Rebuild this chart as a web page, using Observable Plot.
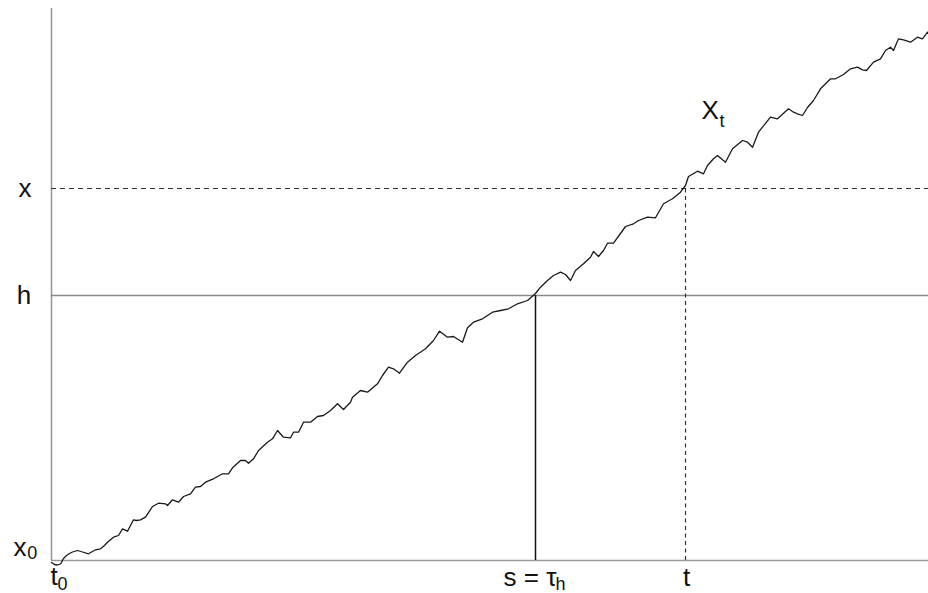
<!DOCTYPE html>
<html>
<head>
<meta charset="utf-8">
<script src="https://cdn.jsdelivr.net/npm/d3@7"></script>
<script src="https://cdn.jsdelivr.net/npm/@observablehq/plot@0.6"></script>
<style>
  html, body { margin: 0; padding: 0; background: #fff; }
  #chart svg { display: block; }
</style>
</head>
<body>
<div id="chart"></div>
<script>
// Sample path X_t: [time, value] (arbitrary units)
const samples = [
  [0,-2],[3,-4],[6,-4.5],[9,-3.5],[12,2],[15,5],[18,7],[21,8.5],[26,10],[31,8.5],
  [37,6.7],[41,9],[44,10.7],[49,11.7],[53,15],[56,18.3],[62,23.3],[67,25],[71,31.7],[76,29.3],
  [82,40.7],[85,40],[89,40.7],[94,43.3],[101,54],[107,57.3],[114,56.7],[116,55],[121,60.7],[127,58.3],
  [132,64],[139,66.7],[144,73.3],[149,74],[154,78.3],[162,81.7],[171,86.7],[177,86.7],[181,92.7],[189,100],
  [194,100],[197,97.3],[202,101.7],[207,110],[216,118.3],[221,121.7],[226,130],[232,123.3],[239,122.7],[242,128.3],
  [247,128.3],[252,138.3],[259,138.3],[266,144],[272,145],[279,150],[286,156.7],[292,151],[299,158.3],[301,163.3],
  [309,170],[316,168.3],[326,176.7],[331,185],[337,193.3],[342,191.7],[348,187.3],[356,198.3],[364,205],[374,211.7],
  [382,220],[388,229.3],[396,223.3],[402,224],[411,218.3],[416,232.7],[422,238.3],[431,241.7],[436,245],[441,248.3],
  [449,250],[457,251.7],[466,256.7],[476,260],[484,267],[489,273.3],[496,280],[502,285],[509,288.3],[514,286],
  [519,280],[524,290],[532,296.7],[539,303.3],[542,309],[547,304],[552,310],[556,317.3],[562,317.3],[569,327],
  [574,334],[582,336.7],[587,340],[596,343.3],[604,342.7],[612,356.7],[621,361.7],[629,368.3],[634,375],[637,384],
  [646,389.3],[652,386.7],[656,395],[662,401.7],[666,405],[674,398.3],[681,411.7],[691,420],[696,418.3],[701,413.3],
  [707,428.3],[719,443.3],[726,441.7],[737,451.7],[742,448.3],[746,446.7],[751,445],[756,453],[762,460],[769,471.7],
  [779,481.7],[784,481.7],[792,486],[799,491.7],[806,493.3],[811,490.7],[815,490],[822,498.3],[829,501.7],[834,510],
  [839,513.3],[842,510],[847,521.7],[852,520.7],[859,518.3],[866,523.3],[871,521.7],[876,528.3],[877,527]
];

// Reference levels and times
const x0Level = 0;
const hLevel = 265;
const xLevel = 372;
const t0Time = 0;
const tauTime = 484;
const tTime = 634;
const tMax = 877;
const yMax = 552;

// Label texts
const mainLabels = ["x", "h", "x", "t", "s = τ", "t", "X"];
const subLabels = ["", "", "0", "0", "h", "", "t"];

const font = "'Liberation Sans', Arial, Helvetica, sans-serif";
const ink = "#111";

const chart = Plot.plot({
  width: 928,
  height: 593,
  marginLeft: 51,
  marginRight: 0,
  marginTop: 8,
  marginBottom: 33,
  x: {domain: [t0Time, tMax], axis: null},
  y: {domain: [x0Level, yMax], axis: null},
  style: {fontFamily: font, background: "#fff", color: ink, overflow: "visible"},
  marks: [
    // axes
    Plot.ruleX([t0Time], {y1: x0Level, y2: yMax, stroke: "#9a9a9a", strokeWidth: 1.6}),
    Plot.ruleY([x0Level], {x1: t0Time, x2: tMax, stroke: "#9a9a9a", strokeWidth: 1.6}),
    // level h (solid gray)
    Plot.ruleY([hLevel], {x1: t0Time, x2: tMax, stroke: "#8a8a8a", strokeWidth: 1.5}),
    // level x (dashed)
    Plot.ruleY([xLevel], {x1: t0Time, x2: tMax, stroke: "#333", strokeWidth: 1.2, strokeDasharray: "5,4"}),
    // s = tau_h (solid)
    Plot.ruleX([tauTime], {y1: x0Level, y2: hLevel, stroke: "#111", strokeWidth: 1.5}),
    // t (dashed)
    Plot.ruleX([tTime], {y1: x0Level, y2: xLevel, stroke: "#333", strokeWidth: 1.2, strokeDasharray: "4,3.5"}),
    // path
    Plot.line(samples, {x: d => d[0], y: d => d[1], stroke: "#1a1a1a", strokeWidth: 1.3, curve: "linear"}),
    // labels
    Plot.text([mainLabels[0]], {x: t0Time - 26.5, y: xLevel, text: d => d, textAnchor: "middle", lineAnchor: "middle", fontSize: 26, fill: ink}),
    Plot.text([mainLabels[1]], {x: t0Time - 27.5, y: hLevel, text: d => d, textAnchor: "middle", lineAnchor: "middle", fontSize: 26, fill: ink}),
    Plot.text([mainLabels[2]], {x: t0Time - 38, y: x0Level, dy: -5, text: d => d, textAnchor: "start", lineAnchor: "bottom", fontSize: 26, fill: ink}),
    Plot.text([subLabels[2]], {x: t0Time - 24.3, y: x0Level, dy: -2, text: d => d, textAnchor: "start", lineAnchor: "bottom", fontSize: 18, fill: ink}),
    Plot.text([mainLabels[3]], {x: t0Time - 1, y: x0Level, dy: 24.5, text: d => d, textAnchor: "start", lineAnchor: "bottom", fontSize: 26, fill: ink}),
    Plot.text([subLabels[3]], {x: t0Time + 6, y: x0Level, dy: 29, text: d => d, textAnchor: "start", lineAnchor: "bottom", fontSize: 18, fill: ink}),
    Plot.text([mainLabels[4]], {x: tauTime - 32, y: x0Level, dy: 25.5, text: d => d, textAnchor: "start", lineAnchor: "bottom", fontSize: 26, fill: ink}),
    Plot.text([subLabels[4]], {x: tauTime + 20, y: x0Level, dy: 29, text: d => d, textAnchor: "start", lineAnchor: "bottom", fontSize: 18, fill: ink}),
    Plot.text([mainLabels[5]], {x: tTime + 1, y: x0Level, dy: 25.5, text: d => d, textAnchor: "middle", lineAnchor: "bottom", fontSize: 26, fill: ink}),
    Plot.text([mainLabels[6]], {x: 650, y: 441.7, text: d => d, textAnchor: "start", lineAnchor: "bottom", fontSize: 26, fill: ink}),
    Plot.text([subLabels[6]], {x: 668, y: 434, text: d => d, textAnchor: "start", lineAnchor: "bottom", fontSize: 18, fill: ink})
  ]
});

document.getElementById("chart").appendChild(chart);
</script>
</body>
</html>
